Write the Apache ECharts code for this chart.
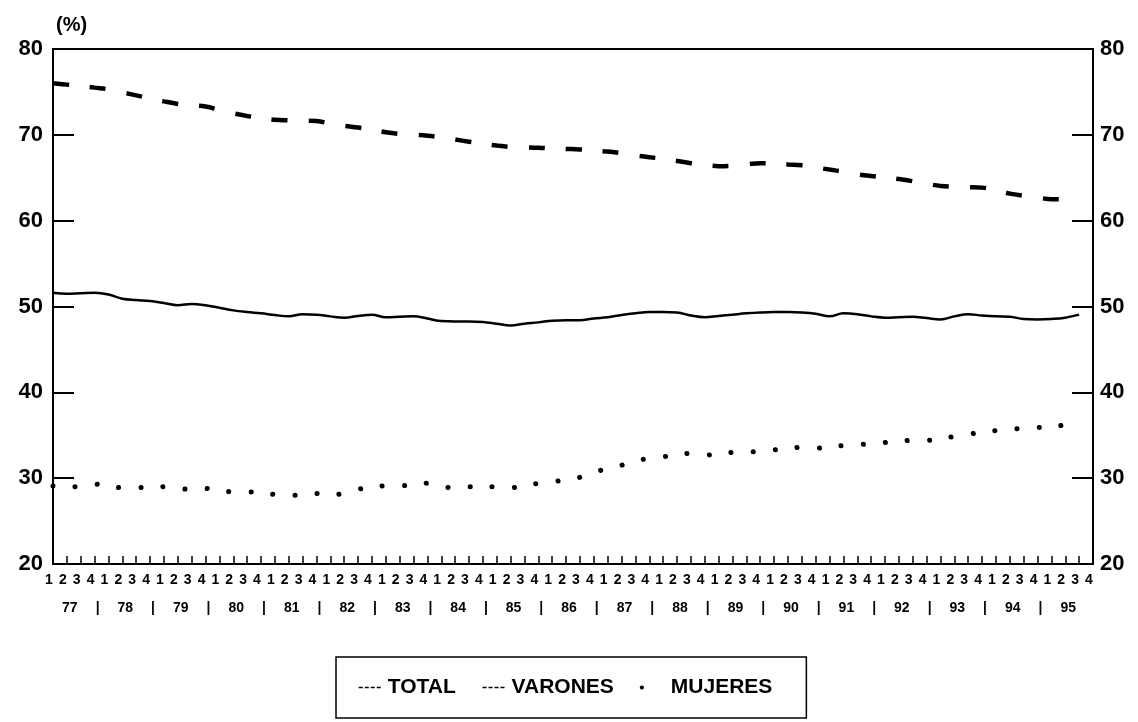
<!DOCTYPE html>
<html><head><meta charset="utf-8">
<script src="https://cdn.jsdelivr.net/npm/echarts@6/dist/echarts.min.js"></script>
<style>html,body{margin:0;padding:0;background:#fff}#c{width:1138px;height:722px}</style>
</head><body><div id="c"></div>
<script>
const years = ['77','78','79','80','81','82','83','84','85','86','87','88','89','90','91','92','93','94','95'];
const quarterLabels = ['1','2','3','4'];
const categories = [];
years.forEach(y => quarterLabels.forEach(q => categories.push(y + '-' + q)));

const total = [51.6,51.5,51.55,51.6,51.4,50.9,50.75,50.65,50.4,50.15,50.3,50.15,49.85,49.55,49.35,49.2,49.0,48.85,49.1,49.05,
48.85,48.7,48.9,49.05,48.75,48.8,48.85,48.6,48.3,48.25,48.25,48.2,48.0,47.8,48.0,48.15,48.35,48.4,48.4,48.6,
48.75,49.0,49.2,49.35,49.35,49.3,48.95,48.75,48.9,49.05,49.2,49.3,49.35,49.35,49.3,49.15,48.85,49.2,49.1,48.85,
48.7,48.75,48.8,48.65,48.5,48.85,49.1,48.95,48.85,48.8,48.55,48.5,48.55,48.7,49.05];

const varones = [76.0,75.85,75.7,75.5,75.3,74.95,74.6,74.25,73.9,73.6,73.45,73.3,72.9,72.5,72.2,71.95,71.75,71.7,71.65,71.6,
71.3,71.05,70.85,70.6,70.3,70.1,70.0,69.9,69.7,69.45,69.2,68.95,68.75,68.6,68.55,68.5,68.4,68.35,68.3,68.15,
68.05,67.85,67.6,67.4,67.2,66.95,66.7,66.5,66.35,66.4,66.55,66.7,66.65,66.55,66.45,66.2,65.95,65.7,65.4,65.2,
65.05,64.85,64.6,64.3,64.05,63.95,63.9,63.85,63.55,63.15,62.9,62.7,62.5,62.5,62.7];

const mujeres = [29.1,29.0,29.0,29.3,29.0,28.9,28.9,28.9,29.0,28.8,28.7,28.8,28.6,28.4,28.4,28.3,28.1,28.0,28.0,28.2,
28.1,28.2,28.7,28.9,29.1,29.1,29.3,29.4,29.0,28.9,29.0,29.0,29.0,28.9,29.1,29.4,29.6,29.8,30.1,30.6,
31.2,31.5,32.0,32.3,32.5,32.7,32.9,32.7,32.8,33.0,33.05,33.1,33.3,33.45,33.6,33.5,33.6,33.8,33.9,34.0,
34.15,34.3,34.4,34.4,34.6,34.85,35.1,35.35,35.55,35.7,35.8,35.9,36.0,36.2,36.4];

const FONT = '"Liberation Sans", Arial, sans-serif';
const chart = echarts.init(document.getElementById('c'), null, {renderer: 'canvas'});

const yAxisCommon = {
  type: 'value', min: 20, max: 80, interval: 10,
  splitLine: {show: false},
  axisLine: {show: true, lineStyle: {color: '#000', width: 2}},
  axisTick: {show: true, inside: true, length: 21, lineStyle: {color: '#000', width: 2}},
  axisLabel: {color: '#000', fontSize: 22, fontWeight: 'bold', fontFamily: FONT}
};

const hiddenSym = {color: 'transparent', borderColor: 'transparent', borderWidth: 0};

chart.setOption({
  animation: false,
  backgroundColor: '#fff',
  title: {text: '(%)', left: 51, top: 10, textStyle: {fontSize: 20, fontWeight: 'bold', fontFamily: FONT, color: '#000'}},
  grid: {left: 53, right: 45, top: 49, bottom: 158, show: true, borderColor: '#000', borderWidth: 2, backgroundColor: 'transparent'},
  xAxis: [{
    type: 'category', data: categories, boundaryGap: false,
    axisLine: {show: true, lineStyle: {color: '#000', width: 2}},
    axisTick: {show: true, inside: true, length: 8, interval: 0, lineStyle: {color: '#000', width: 1.5}},
    axisLabel: {interval: 0, margin: 9, color: '#000', fontSize: 14, fontWeight: 'bold', fontFamily: FONT,
      padding: [0, 8, 0, 0],
      formatter: (v, i) => quarterLabels[i % 4]},
    splitLine: {show: false}
  }, {
    type: 'category', data: categories, boundaryGap: false, position: 'bottom', offset: 28,
    axisLine: {show: false}, axisTick: {show: false}, splitLine: {show: false},
    axisLabel: {interval: 0, margin: 9, color: '#000', fontSize: 14, fontWeight: 'bold', fontFamily: FONT,
      padding: [0, 0, 0, 6],
      formatter: (v, i) => (i % 4 === 1 ? years[Math.floor(i / 4)] : (i % 4 === 3 && i < categories.length - 1 ? '|' : ''))}
  }],
  yAxis: [
    Object.assign({}, yAxisCommon, {position: 'left', axisLabel: Object.assign({}, yAxisCommon.axisLabel, {margin: 10})}),
    Object.assign({}, yAxisCommon, {position: 'right', axisLabel: Object.assign({}, yAxisCommon.axisLabel, {margin: 7})})
  ],
  legend: {
    left: 336, top: 657,
    padding: [20, 34, 20, 22],
    itemGap: 26, itemWidth: 24, itemHeight: 6,
    borderColor: '#000', borderWidth: 1.5,
    textStyle: {color: '#000', fontSize: 21, fontWeight: 'bold', fontFamily: FONT},
    data: [
      {name: 'TOTAL', lineStyle: {type: [4, 2], width: 1.5, color: '#000'}, itemStyle: hiddenSym},
      {name: 'VARONES', lineStyle: {type: [4, 2], width: 1.5, color: '#000'}, itemStyle: hiddenSym},
      {name: 'MUJERES', lineStyle: {type: [0.1, 40], width: 4, cap: 'round', color: '#000'}, itemStyle: hiddenSym}
    ]
  },
  series: [
    {name: 'TOTAL', type: 'line', data: total, symbol: 'none', smooth: 0.4,
      lineStyle: {color: '#000', width: 2.5}, itemStyle: {color: '#000'}},
    {name: 'VARONES', type: 'line', data: varones, symbol: 'none', smooth: 0.4,
      lineStyle: {color: '#000', width: 4.5, type: [16, 21]}, itemStyle: {color: '#000'}},
    {name: 'MUJERES', type: 'line', data: mujeres, symbol: 'none', smooth: 0.4,
      lineStyle: {color: '#000', width: 5, type: [0.1, 22], cap: 'round'}, itemStyle: {color: '#000'}}
  ]
});
</script></body></html>
